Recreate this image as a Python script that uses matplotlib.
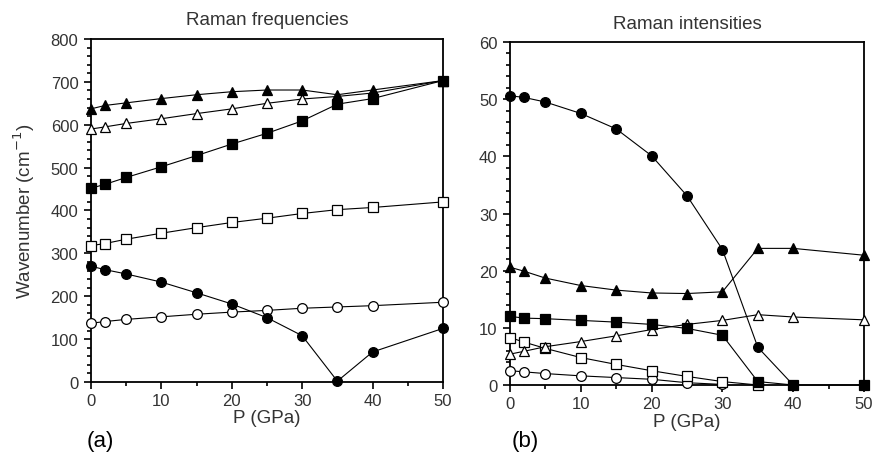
import matplotlib.pyplot as plt
from matplotlib.ticker import MultipleLocator

P = [0, 2, 5, 10, 15, 20, 25, 30, 35, 40, 50]

# Raman frequencies (cm-1)
freq_tri_fill = [637, 645, 651, 661, 670, 677, 681, 681, 670, 681, 703]
freq_tri_open = [590, 595, 603, 614, 626, 637, 650, 660, 666, 674, 703]
freq_sq_fill = [452, 461, 477, 502, 528, 555, 580, 609, 648, 661, 703]
freq_sq_open = [318, 323, 333, 347, 360, 372, 382, 393, 402, 407, 420]
freq_circ_fill = [270, 262, 252, 233, 208, 182, 150, 108, 2, 70, 125]
freq_circ_open = [137, 141, 146, 152, 158, 163, 167, 172, 175, 178, 186]

# Raman intensities
P_circ = [0, 2, 5, 10, 15, 20, 25, 30, 35, 40]
int_circ_fill = [50.6, 50.3, 49.5, 47.5, 44.8, 40.1, 33.1, 23.7, 6.6, 0.0]
int_tri_fill = [20.6, 19.9, 18.7, 17.4, 16.6, 16.1, 16.0, 16.3, 23.9, 23.9, 22.7]
int_sq_fill = [12.0, 11.7, 11.6, 11.3, 11.0, 10.6, 9.9, 8.7, 0.6, 0.0, 0.0]
int_tri_open = [5.4, 5.9, 6.7, 7.6, 8.6, 9.7, 10.6, 11.3, 12.3, 11.9, 11.4]
P_sq_open = [0, 2, 5, 10, 15, 20, 25, 30, 35]
int_sq_open = [8.3, 7.5, 6.4, 4.8, 3.6, 2.5, 1.5, 0.6, 0.0]
P_circ_open = [0, 2, 5, 10, 15, 20, 25, 30]
int_circ_open = [2.5, 2.3, 2.0, 1.6, 1.3, 1.0, 0.4, 0.1]

plt.rcParams['font.family'] = ['Liberation Sans', 'DejaVu Sans']
TXT = '#333333'

fig = plt.figure(figsize=(8.73, 4.56), dpi=100)
ax1 = fig.add_axes([0.1042, 0.1601, 0.4032, 0.7522])
ax2 = fig.add_axes([0.5842, 0.1535, 0.4055, 0.7522])

def series(ax, x, y, marker, filled):
    ax.plot(x, y, color='black', linewidth=0.8, marker=marker, markersize=7,
            markerfacecolor='black' if filled else 'white',
            markeredgecolor='black', markeredgewidth=0.9, clip_on=False, zorder=3)

series(ax1, P, freq_tri_open, '^', False)
series(ax1, P, freq_tri_fill, '^', True)
series(ax1, P, freq_sq_fill, 's', True)
series(ax1, P, freq_sq_open, 's', False)
series(ax1, P, freq_circ_open, 'o', False)
series(ax1, P, freq_circ_fill, 'o', True)

series(ax2, P_circ_open, int_circ_open, 'o', False)
series(ax2, P_sq_open, int_sq_open, 's', False)
series(ax2, P, int_tri_open, '^', False)
series(ax2, P, int_sq_fill, 's', True)
series(ax2, P, int_tri_fill, '^', True)
series(ax2, P_circ, int_circ_fill, 'o', True)

for ax, ymax, major, minor in [(ax1, 800, 100, 20), (ax2, 60, 10, 2)]:
    ax.set_xlim(0, 50)
    ax.set_ylim(0, ymax)
    ax.xaxis.set_major_locator(MultipleLocator(10))
    ax.xaxis.set_minor_locator(MultipleLocator(5))
    ax.yaxis.set_major_locator(MultipleLocator(major))
    ax.yaxis.set_minor_locator(MultipleLocator(minor))
    ax.tick_params(which='both', direction='out', top=False, right=False,
                   labelsize=12, labelcolor=TXT, width=1.2)
    ax.tick_params(which='major', length=5, pad=4)
    ax.tick_params(axis='x', which='major', pad=3)
    ax.tick_params(which='minor', length=3)
    for s in ax.spines.values():
        s.set_linewidth(1.3)
    ax.set_xlabel('P (GPa)', fontsize=13.5, color=TXT, labelpad=1)

ax1.set_ylabel('Wavenumber (cm$^{-1}$)', fontsize=13.5, color=TXT, labelpad=10)
ax1.set_title('Raman frequencies', fontsize=13.5, color=TXT, pad=11)
ax2.set_title('Raman intensities', fontsize=13.5, color=TXT, pad=10)

fig.text(100 / 873, 1 - 442 / 456, '(a)', fontsize=16, color='black', ha='center', va='center')
fig.text(525 / 873, 1 - 442 / 456, '(b)', fontsize=16, color='black', ha='center', va='center')

fig.savefig('out.png', dpi=100)
